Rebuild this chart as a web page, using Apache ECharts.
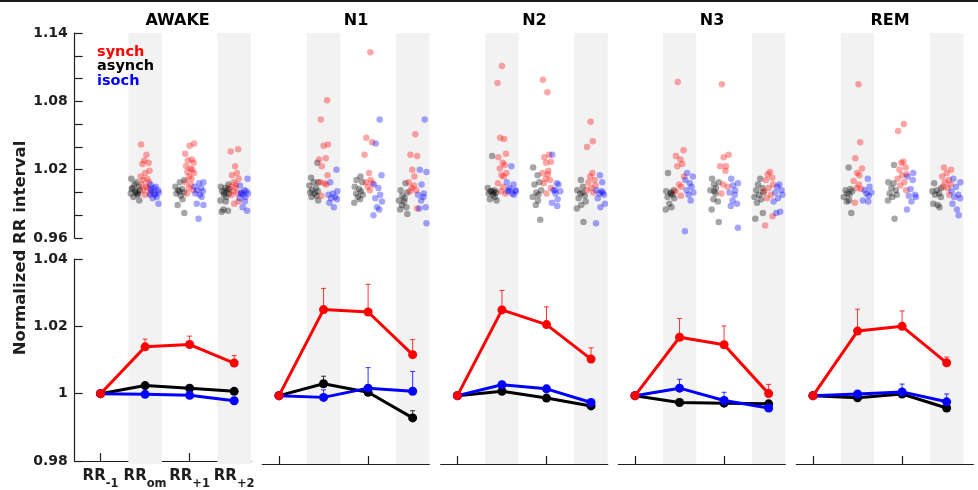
<!DOCTYPE html>
<html>
<head>
<meta charset="utf-8">
<script src="https://cdn.jsdelivr.net/npm/echarts@6/dist/echarts.min.js"></script>
<style>
  html, body { margin: 0; padding: 0; background: #fff; }
  #chart { width: 978px; height: 490px; }
</style>
</head>
<body>
<div id="chart"></div>
<script>
// ---- data -------------------------------------------------------------
const stages = ['AWAKE', 'N1', 'N2', 'N3', 'REM'];
const tickLabels = [['RR', '-1'], ['RR', 'om'], ['RR', '+1'], ['RR', '+2']];
const groups = ['synch', 'asynch', 'isoch'];

// mean normalized RR at RR-1, RRom, RR+1, RR+2 (one row per stage)
const meanSynch  = [[1, 1.0139, 1.0146, 1.0091], [1, 1.0252, 1.0245, 1.0120], [1, 1.0251, 1.0208, 1.0107], [1, 1.0171, 1.0149, 1.0006], [1, 1.0189, 1.0203, 1.0096]];
const semSynch   = [[0, 0.0023, 0.0025, 0.0022], [0, 0.0062, 0.0081, 0.0044], [0, 0.0057, 0.0052, 0.0033], [0, 0.0055, 0.0055, 0.0027], [0, 0.0064, 0.0045, 0.0017]];
const meanAsynch = [[1, 1.0024, 1.0016, 1.0007], [1, 1.0035, 1.0010, 0.9935], [1, 1.0013, 0.9993, 0.9970], [1, 0.9980, 0.9978, 0.9976], [1, 0.9994, 1.0005, 0.9964]];
const semAsynch  = [[0, 0.0005, 0.0005, 0.0005], [0, 0.0022, 0.0008, 0.0021], [0, 0.0007, 0.0007, 0.0007], [0, 0.0010, 0.0008, 0.0008], [0, 0.0006, 0.0006, 0.0006]];
const meanIsoch  = [[1, 0.9998, 0.9995, 0.9979], [1, 0.9995, 1.0022, 1.0013], [1, 1.0032, 1.0020, 0.9980], [1, 1.0022, 0.9986, 0.9964], [1, 1.0005, 1.0011, 0.9982]];
const semIsoch   = [[0, 0.0003, 0.0003, 0.0003], [0, 0.0022, 0.0060, 0.0058], [0, 0.0010, 0.0010, 0.0008], [0, 0.0026, 0.0024, 0.0005], [0, 0.0006, 0.0023, 0.0023]];

// individual subjects, per category RRom / RR+1 / RR+2
const awakeSynch = [
  [1.042, 1.033, 1.028, 1.026, 1.025, 1.019, 1.017, 1.014, 1.012, 1.011, 1.009, 1.007, 1.005, 1.004, 1.002, 0.999, 0.998],
  [1.043, 1.041, 1.034, 1.029, 1.028, 1.026, 1.023, 1.021, 1.020, 1.018, 1.017, 1.014, 1.012, 1.009, 1.007, 1.004, 1.002, 0.999],
  [1.038, 1.036, 1.023, 1.017, 1.015, 1.012, 1.009, 1.007, 1.005, 1.004, 1.001, 0.999, 0.998, 0.992, 0.990]];
const awakeAsynch = [
  [1.012, 1.009, 1.007, 1.005, 1.004, 1.002, 1.001, 0.999, 0.998, 0.996, 0.993, 1.003, 1.000, 0.999],
  [1.011, 1.009, 1.005, 1.003, 1.002, 1.000, 0.999, 0.997, 0.994, 0.989, 0.982, 1.001],
  [1.007, 1.005, 1.004, 1.002, 1.001, 0.999, 0.998, 0.996, 0.993, 0.992, 0.985, 0.984, 0.983, 1.003, 1.000]];
const awakeIsoch = [
  [1.007, 1.005, 1.004, 1.002, 1.001, 1.000, 0.999, 0.998, 0.996, 0.995, 0.990, 1.003, 0.998],
  [1.009, 1.008, 1.005, 1.004, 1.002, 1.001, 0.999, 0.998, 0.996, 0.990, 0.989, 0.977],
  [1.012, 1.006, 1.002, 1.001, 1.000, 0.999, 0.998, 0.996, 0.995, 0.992, 0.987, 0.984, 0.999]];

const n1Synch = [
  [1.081, 1.064, 1.042, 1.041, 1.029, 1.030, 1.023, 1.015, 1.009, 1.008, 1.007, 0.997],
  [1.123, 1.048, 1.044, 1.033, 1.017, 1.011, 1.009, 1.008, 1.005, 1.002],
  [1.051, 1.033, 1.032, 1.020, 1.014, 1.009, 1.006, 1.004, 1.002, 1.001, 0.986]];
const n1Asynch = [
  [1.026, 1.013, 1.009, 1.009, 1.006, 1.004, 1.002, 1.001, 1.000, 0.999, 0.997, 0.996, 0.993],
  [1.014, 1.011, 1.009, 1.005, 1.003, 1.001, 0.999, 0.998, 0.996, 0.994, 0.991],
  [1.008, 1.002, 1.000, 0.997, 0.995, 0.993, 0.992, 0.989, 0.987, 0.985, 0.981]];
const n1Isoch = [
  [1.020, 1.009, 1.001, 0.999, 0.998, 0.996, 0.995, 0.994, 0.991, 0.987],
  [1.064, 1.043, 1.015, 1.007, 1.004, 0.998, 0.995, 0.992, 0.987, 0.985, 0.980],
  [1.064, 1.020, 1.018, 1.007, 0.999, 0.998, 0.996, 0.993, 0.987, 0.986, 0.973]];

const n2Synch = [
  [1.111, 1.096, 1.047, 1.048, 1.034, 1.031, 1.026, 1.024, 1.021, 1.017, 1.015, 1.014, 1.008, 1.005, 1.001, 0.999],
  [1.099, 1.088, 1.033, 1.031, 1.027, 1.026, 1.019, 1.017, 1.016, 1.012, 1.011, 1.008, 1.004, 0.999],
  [1.062, 1.045, 1.040, 1.017, 1.014, 1.011, 1.009, 1.006, 1.004, 1.002, 1.000]];
const n2Asynch = [
  [1.032, 1.004, 1.002, 1.001, 1.000, 0.999, 0.998, 0.996, 0.994, 0.993, 1.001, 1.000],
  [1.022, 1.015, 1.009, 1.007, 1.002, 1.000, 0.998, 0.996, 0.993, 0.989, 0.976],
  [1.011, 1.005, 1.002, 1.000, 0.999, 0.997, 0.995, 0.992, 0.989, 0.986, 0.974]];
const n2Isoch = [
  [1.023, 1.009, 1.007, 1.004, 1.002, 1.001, 0.999, 0.998, 1.002, 1.001],
  [1.033, 1.008, 1.007, 1.002, 1.001, 0.999, 0.994, 0.991, 0.988, 1.002],
  [1.015, 1.009, 1.002, 1.001, 0.999, 0.998, 0.995, 0.990, 0.987, 0.973, 1.000]];

const n3Synch = [
  [1.097, 1.037, 1.032, 1.029, 1.025, 1.023, 1.014, 1.007, 1.005, 1.001, 0.997],
  [1.095, 1.033, 1.031, 1.023, 1.023, 1.019, 1.007, 1.005, 0.999],
  [1.018, 1.016, 1.013, 1.011, 1.007, 1.004, 1.001, 0.998, 0.995, 0.979, 0.971]];
const n3Asynch = [
  [1.017, 1.002, 1.001, 0.999, 0.998, 0.996, 0.995, 0.990, 0.987, 0.985, 1.000],
  [1.012, 1.009, 1.007, 1.004, 1.002, 0.999, 0.994, 0.992, 0.985, 0.974, 1.001],
  [1.012, 1.007, 1.004, 1.002, 1.000, 0.998, 0.996, 0.994, 0.991, 0.982, 0.977]];
const n3Isoch = [
  [1.017, 1.014, 1.011, 1.008, 1.005, 1.002, 1.000, 0.998, 0.993, 0.966],
  [1.012, 1.008, 1.006, 1.002, 1.000, 0.998, 0.993, 0.990, 0.988, 0.969],
  [1.007, 1.005, 1.002, 1.000, 0.998, 0.995, 0.992, 0.983, 0.982]];

const remSynch = [
  [1.095, 1.044, 1.030, 1.021, 1.017, 1.015, 1.010, 1.007, 1.004, 1.003, 0.991],
  [1.060, 1.054, 1.027, 1.026, 1.022, 1.020, 1.016, 1.015, 1.012, 1.009, 1.006, 1.002],
  [1.022, 1.020, 1.017, 1.014, 1.011, 1.009, 1.007, 1.005, 1.004, 0.998]];
const remAsynch = [
  [1.022, 1.003, 1.002, 1.001, 0.999, 0.998, 0.996, 0.993, 0.992, 0.982],
  [1.024, 1.009, 1.008, 1.004, 1.002, 0.999, 0.998, 0.996, 0.993, 0.977],
  [1.008, 1.004, 1.002, 1.001, 0.999, 0.998, 0.996, 0.990, 0.989, 0.987]];
const remIsoch = [
  [1.012, 1.005, 1.002, 1.000, 0.999, 0.997, 0.993, 0.992],
  [1.017, 1.014, 1.011, 1.003, 0.998, 0.997, 0.996, 0.992, 0.985],
  [1.012, 1.009, 1.005, 1.001, 0.998, 0.996, 0.995, 0.990, 0.985, 0.980]];

const subjects = {
  synch:  [awakeSynch, n1Synch, n2Synch, n3Synch, remSynch],
  asynch: [awakeAsynch, n1Asynch, n2Asynch, n3Asynch, remAsynch],
  isoch:  [awakeIsoch, n1Isoch, n2Isoch, n3Isoch, remIsoch]
};
const means = { synch: meanSynch, asynch: meanAsynch, isoch: meanIsoch };
const sems = { synch: semSynch, asynch: semAsynch, isoch: semIsoch };

// ---- layout / style ---------------------------------------------------
const FONT = 'DejaVu Sans';
const INK = '#1e1e1e';
const colors = { synch: '#ff0000', asynch: '#000000', isoch: '#0000ff' };
const SPACING = 44.55;                 // px per category
const panelLeft = [74.7, 262.3, 440.7, 618.3, 796.3];
const xMin = [0.42, 0.625, 0.625, 0.625, 0.625];
const xMax = [4.375, 4.375, 4.375, 4.375, 4.6];
const bandCats = [2, 4];               // shaded categories
const groupShift = { asynch: -0.22, synch: 0, isoch: 0.21 };
// fixed horizontal spread pattern for the subject dots
const spread = [-0.09, 0.03, -0.02, 0.08, -0.06, 0.1, 0.0, -0.1, 0.05, -0.04, 0.09, -0.08, 0.02, 0.06, -0.05, 0.1, -0.01, 0.04];

const chart = echarts.init(document.getElementById('chart'));

const grids = [], xAxes = [], yAxes = [], series = [], graphics = [];
const axisLineStyle = { color: INK, width: 1.2 };
const tickFont = { fontFamily: FONT, fontWeight: 'bold', fontSize: 14, color: INK };

stages.forEach((stage, p) => {
  const left = panelLeft[p];
  const width = (xMax[p] - xMin[p]) * SPACING;
  const base = p * 3;
  // background (bands), top (subjects), bottom (means)
  grids.push({ left, width, top: 33, height: 431 });
  grids.push({ left, width, top: 33, height: 205 });
  grids.push({ left, width, top: 259, height: 205 });

  xAxes.push({ gridIndex: base, type: 'value', min: xMin[p], max: xMax[p], show: false });
  yAxes.push({ gridIndex: base, type: 'value', min: 0, max: 1, show: false });

  xAxes.push({ gridIndex: base + 1, type: 'value', min: xMin[p], max: xMax[p], show: false });
  yAxes.push({
    gridIndex: base + 1, type: 'value', min: 0.96, max: 1.14, interval: 0.02, show: p === 0,
    axisLine: { show: true, lineStyle: axisLineStyle },
    axisTick: { show: true, inside: true, length: 8, lineStyle: axisLineStyle },
    splitLine: { show: false },
    axisLabel: Object.assign({
      margin: 7, showMinLabel: true, showMaxLabel: true,
      formatter: v => (Math.round((v - 0.96) / 0.02) % 3 === 0 ? v.toFixed(2) : '')
    }, tickFont)
  });

  xAxes.push({
    gridIndex: base + 2, type: 'value', min: xMin[p], max: xMax[p],
    axisLine: { show: true, onZero: false, lineStyle: axisLineStyle },
    axisTick: { show: true, inside: true, length: 8, customValues: [1, 2, 3, 4], lineStyle: axisLineStyle },
    splitLine: { show: false },
    axisLabel: {
      show: p === 0, customValues: [1, 2, 3, 4], margin: 7,
      formatter: v => {
        const t = tickLabels[Math.round(v) - 1];
        return '{r|' + t[0] + '}{s|' + t[1] + '}';
      },
      rich: {
        r: { fontFamily: FONT, fontWeight: 'bold', fontSize: 15, color: INK, lineHeight: 17 },
        s: { fontFamily: FONT, fontWeight: 'bold', fontSize: 11.5, color: INK, lineHeight: 12, padding: [15, 0, 0, 0] }
      }
    }
  });
  yAxes.push({
    gridIndex: base + 2, type: 'value', min: 0.98, max: 1.04, interval: 0.02, show: p === 0,
    axisLine: { show: true, lineStyle: axisLineStyle },
    axisTick: { show: true, inside: true, length: 8, lineStyle: axisLineStyle },
    splitLine: { show: false },
    axisLabel: Object.assign({
      margin: 7, formatter: v => (Math.abs(v - 1) < 1e-9 ? '1' : v.toFixed(2))
    }, tickFont)
  });

  // shaded bands
  series.push({
    type: 'scatter', xAxisIndex: base, yAxisIndex: base, data: [], silent: true, z: 0,
    markArea: {
      silent: true,
      itemStyle: { color: '#f2f2f2' },
      data: bandCats.map(c => [{ xAxis: c - 0.375 }, { xAxis: c + 0.375 }])
    }
  });

  // subject dots
  ['asynch', 'synch', 'isoch'].forEach(g => {
    const pts = [];
    subjects[g][p].forEach((vals, ci) => {
      vals.forEach((v, k) => {
        pts.push([ci + 2 + groupShift[g] + spread[(k + ci * 5 + p * 3) % spread.length], v]);
      });
    });
    series.push({
      type: 'scatter', name: g, xAxisIndex: base + 1, yAxisIndex: base + 1,
      data: pts, symbolSize: 6.5, z: 3,
      itemStyle: { color: colors[g], opacity: 0.35 }
    });
  });

  // error bars (mean + SEM, upper only)
  ['asynch', 'isoch', 'synch'].forEach((g, gi) => {
    const data = means[g][p].map((m, i) => [i + 1, m, sems[g][p][i]]).filter(d => d[2] > 0);
    series.push({
      type: 'custom', xAxisIndex: base + 2, yAxisIndex: base + 2, z: 4 + gi,
      encode: { x: 0, y: 1 },
      data,
      renderItem: (params, api) => {
        const x = api.value(0), m = api.value(1), e = api.value(2);
        const p0 = api.coord([x, m]);
        const p1 = api.coord([x, m + e]);
        const st = { stroke: colors[g], lineWidth: 1, opacity: 0.8 };
        return {
          type: 'group', children: [
            { type: 'line', shape: { x1: p0[0], y1: p0[1], x2: p1[0], y2: p1[1] }, style: st },
            { type: 'line', shape: { x1: p1[0] - 2.5, y1: p1[1], x2: p1[0] + 2.5, y2: p1[1] }, style: st }
          ]
        };
      }
    });
  });

  // mean lines
  ['asynch', 'isoch', 'synch'].forEach((g, gi) => {
    series.push({
      type: 'line', name: g, xAxisIndex: base + 2, yAxisIndex: base + 2, z: 10 + gi,
      data: means[g][p].map((m, i) => [i + 1, m]),
      symbol: 'circle', symbolSize: 9, showSymbol: true,
      lineStyle: { color: colors[g], width: 3 },
      itemStyle: { color: colors[g] }
    });
  });

  // panel title
  graphics.push({
    type: 'text', x: left + (2.73 - xMin[p]) * SPACING, y: 21, z: 100,
    style: { text: stage, fill: '#000', font: 'bold 16px "' + FONT + '"', textAlign: 'center', textVerticalAlign: 'middle' }
  });
});

// legend text in first panel
groups.forEach((g, i) => {
  graphics.push({
    type: 'text', x: 97, y: 52 + i * 14.5, z: 100,
    style: { text: g, fill: colors[g], font: 'bold 14.5px "' + FONT + '"', textAlign: 'left', textVerticalAlign: 'middle' }
  });
});

// y-axis title
graphics.push({
  type: 'text', x: 21, y: 248, rotation: Math.PI / 2, z: 100,
  style: { text: 'Normalized RR interval', fill: INK, font: 'bold 16.5px "' + FONT + '"', textAlign: 'center', textVerticalAlign: 'middle' }
});

// frame line along the top edge
graphics.push({
  type: 'line', shape: { x1: 0, y1: 1, x2: 978, y2: 1 }, z: 100,
  style: { stroke: '#1a1a1a', lineWidth: 2 }
});

chart.setOption({
  animation: false,
  backgroundColor: '#ffffff',
  grid: grids,
  xAxis: xAxes,
  yAxis: yAxes,
  series,
  graphic: graphics
});
</script>
</body>
</html>
